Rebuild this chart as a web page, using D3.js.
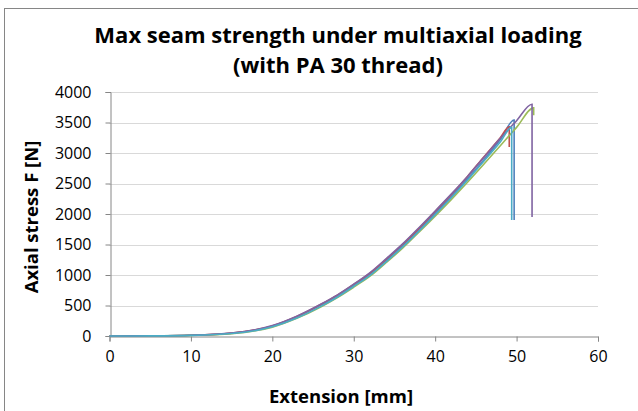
<!DOCTYPE html>
<html><head><meta charset="utf-8">
<script src="https://cdn.jsdelivr.net/npm/d3@7"></script>
<style>body{margin:0;background:#fff}svg{display:block}text{font-family:"Open Sans",sans-serif}</style>
</head><body><svg id="c" width="638" height="411"></svg>
<script>
const titleLines = ["Max seam strength under multiaxial loading", "(with PA 30 thread)"];
const xLabel = "Extension [mm]";
const yLabel = "Axial stress F [N]";
const xTicks = [0, 10, 20, 30, 40, 50, 60];
const yTicks = [0, 500, 1000, 1500, 2000, 2500, 3000, 3500, 4000];
const seriesNames = ["S1", "S2", "S3", "S4", "S5"];
const seriesColors = ["#4F81BD", "#C0504D", "#9BBB59", "#8064A2", "#4BACC6"];
const extBase = [0, 5, 10, 15, 20, 23, 26, 28, 30, 32, 34, 36, 38, 40, 42, 44, 46, 48];
const ext1 = extBase.concat([49.7, 49.7]);
const force1 = [0, 3, 12, 45, 160, 310, 510, 660, 830, 1010, 1240, 1480, 1740, 2010, 2290, 2580, 2890, 3220, 3540, 1900];
const ext2 = extBase.concat([49.1, 49.1]);
const force2 = [0, 3, 12, 47, 165, 320, 520, 670, 845, 1030, 1260, 1500, 1760, 2040, 2320, 2620, 2940, 3250, 3430, 3100];
const ext3 = extBase.concat([50, 52.1, 52.1]);
const force3 = [0, 2, 10, 38, 145, 290, 480, 630, 800, 980, 1205, 1440, 1700, 1965, 2240, 2525, 2820, 3120, 3420, 3740, 3620];
const ext4 = extBase.concat([50, 51.9, 51.9]);
const force4 = [0, 3, 13, 48, 170, 325, 525, 675, 850, 1040, 1270, 1510, 1775, 2050, 2330, 2620, 2930, 3240, 3530, 3800, 1950];
const ext5 = extBase.concat([49.4, 49.4]);
const force5 = [0, 2, 10, 40, 150, 295, 490, 640, 815, 995, 1220, 1460, 1720, 1990, 2270, 2560, 2870, 3180, 3420, 1900];

const exts = [ext1, ext2, ext3, ext4, ext5];
const forces = [force1, force2, force3, force4, force5];

const svg = d3.select("#c");
svg.append("rect").attr("x", 4.5).attr("y", 8.5).attr("width", 640).attr("height", 410)
  .attr("fill", "none").attr("stroke", "#868686").attr("stroke-width", 1);

const x = d3.scaleLinear().domain([0, 60]).range([109.5, 598]);
const y = d3.scaleLinear().domain([0, 4000]).range([336, 92]);

svg.append("g").selectAll("line").data(yTicks.slice(1)).join("line")
  .attr("x1", x(0)).attr("x2", x(60))
  .attr("y1", d => Math.round(y(d)) + 0.5).attr("y2", d => Math.round(y(d)) + 0.5)
  .attr("stroke", "#d9d9d9").attr("stroke-width", 1);

const xAxis = svg.append("g").attr("transform", `translate(0,${Math.round(y(0)) + 0.5})`)
  .call(d3.axisBottom(x).tickValues(xTicks).tickFormat(d3.format("d")).tickSizeOuter(0).tickSize(5).tickPadding(9));
const yAxis = svg.append("g").attr("transform", `translate(${Math.round(x(0)) + 0.5},0)`)
  .call(d3.axisLeft(y).tickValues(yTicks).tickFormat(d3.format("d")).tickSizeOuter(0).tickSize(5).tickPadding(14));
[xAxis, yAxis].forEach(a => {
  a.select(".domain").attr("stroke", "#868686");
  a.selectAll(".tick line").attr("stroke", "#868686");
  a.selectAll(".tick text").attr("fill", "#000").style("font-size", "16px").style("font-family", "'Open Sans',sans-serif");
});

const line = d3.line().x(d => x(d[0])).y(d => y(d[1]));
exts.forEach((e, i) => {
  const pts = e.map((v, j) => [v, forces[i][j]]);
  svg.append("path").datum(pts).attr("d", line.curve(d3.curveMonotoneX))
    .attr("fill", "none").attr("stroke", seriesColors[i]).attr("stroke-width", 1.6);
});

svg.append("g").selectAll("text").data(titleLines).join("text")
  .attr("x", 338).attr("y", (d, i) => 43 + i * 30).attr("text-anchor", "middle")
  .style("font-size", "22px").style("font-weight", "bold").text(d => d);

svg.append("text").attr("x", 341).attr("y", 403).attr("text-anchor", "middle")
  .style("font-size", "18.5px").style("font-weight", "bold").text(xLabel);
svg.append("text").attr("transform", "translate(38,217) rotate(-90)").attr("text-anchor", "middle")
  .style("font-size", "18.5px").style("font-weight", "bold").text(yLabel);
</script></body></html>
